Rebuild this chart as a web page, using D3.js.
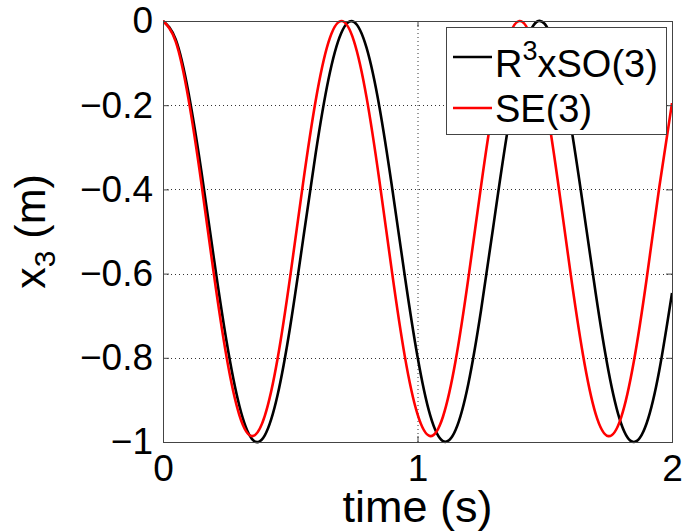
<!DOCTYPE html>
<html><head><meta charset="utf-8">
<script src="https://cdn.jsdelivr.net/npm/d3@7"></script>
<style>
html,body{margin:0;padding:0;background:#fff;}
text{font-family:"Liberation Sans",Arial,sans-serif;fill:#000;}
</style></head>
<body><svg id="c" width="684" height="532"></svg>
<script>
// ---- data ----
const time = [0,0.05,0.1,0.15,0.2,0.25,0.3,0.35,0.4,0.45,0.5,0.55,0.6,0.65,0.7,0.75,0.8,0.85,0.9,0.95,1.0,
  1.05,1.1,1.15,1.2,1.25,1.3,1.35,1.4,1.45,1.5,1.55,1.6,1.65,1.7,1.75,1.8,1.85,1.9,1.95,2.0];
const r3so3 = [0,-0.044,-0.170,-0.354,-0.564,-0.762,-0.914,-0.993,-0.984,-0.889,-0.725,-0.521,-0.314,-0.139,-0.029,-0.002,
  -0.064,-0.203,-0.395,-0.605,-0.797,-0.937,-0.998,-0.971,-0.861,-0.686,-0.479,-0.275,-0.111,-0.016,-0.007,
  -0.086,-0.238,-0.437,-0.646,-0.830,-0.956,-1.000,-0.956,-0.830,-0.646];
const se3 = [0,-0.049,-0.185,-0.382,-0.602,-0.799,-0.936,-0.986,-0.938,-0.803,-0.606,-0.387,-0.189,-0.051,0.000,-0.047,
  -0.182,-0.378,-0.597,-0.796,-0.934,-0.986,-0.940,-0.806,-0.610,-0.391,-0.192,-0.053,0.000,-0.045,-0.178,
  -0.374,-0.593,-0.792,-0.933,-0.986,-0.942,-0.809,-0.614,-0.395,-0.195];
const xTicks = [0,1,2];
const xTickLabels = ["0","1","2"];
const yTicks = [0,-0.2,-0.4,-0.6,-0.8,-1];
const yTickLabels = ["0","\u22120.2","\u22120.4","\u22120.6","\u22120.8","\u22121"];
const seriesNames = ["R3xSO(3)","SE(3)"];
const seriesColors = ["#000000","#ff0000"];

// ---- layout ----
const L=163, R=672, T=21, B=442;
const svg=d3.select("#c");
const x=d3.scaleLinear().domain([0,2]).range([L,R]);
const y=d3.scaleLinear().domain([-1,0]).range([B,T]);

// grid (dotted)
const grid=svg.append("g").attr("stroke","#333").attr("stroke-width",1).attr("stroke-dasharray","1,3");
grid.selectAll("line.gx").data(xTicks.filter(d=>d>0&&d<2)).join("line")
  .attr("x1",d=>x(d)+0.5).attr("x2",d=>x(d)+0.5).attr("y1",T).attr("y2",B);
grid.selectAll("line.gy").data(yTicks.filter(d=>d<0&&d>-1)).join("line")
  .attr("y1",d=>Math.round(y(d))+0.5).attr("y2",d=>Math.round(y(d))+0.5).attr("x1",L).attr("x2",R);

// curves
svg.append("clipPath").attr("id","pc").append("rect").attr("x",L).attr("y",T-3).attr("width",R-L).attr("height",B-T+6);
const line=d3.line().x((d,i)=>x(time[i])).y(d=>y(d)).curve(d3.curveNatural);
const series=[r3so3,se3];
svg.append("g").attr("clip-path","url(#pc)").selectAll("path").data(series).join("path")
  .attr("d",d=>line(d)).attr("fill","none").attr("stroke",(d,i)=>seriesColors[i]).attr("stroke-width",2.6);

// axes with inward ticks
const ax=svg.append("g");
const xb=d3.axisBottom(x).tickValues(xTicks).tickSizeInner(-6).tickSizeOuter(0).tickPadding(13).tickFormat((d,i)=>xTickLabels[i]);
const gx=ax.append("g").attr("transform",`translate(0,${B})`).call(xb);
const yl=d3.axisLeft(y).tickValues(yTicks).tickSizeInner(-6).tickSizeOuter(0).tickPadding(10).tickFormat((d,i)=>yTickLabels[i]);
const gy=ax.append("g").attr("transform",`translate(${L},0)`).call(yl);
ax.append("g").attr("transform",`translate(0,${T})`).call(d3.axisTop(x).tickValues(xTicks).tickSizeInner(-6).tickSizeOuter(0).tickFormat(""));
ax.append("g").attr("transform",`translate(${R},0)`).call(d3.axisRight(y).tickValues(yTicks).tickSizeInner(-6).tickSizeOuter(0).tickFormat(""));
ax.selectAll(".domain").attr("stroke","#444");
ax.selectAll(".tick line").attr("stroke","#444");
ax.selectAll("text").attr("fill","#000").attr("font-size",37).style("font-family","Liberation Sans, Arial, sans-serif");
// box
svg.append("rect").attr("x",L+0.5).attr("y",T+0.5).attr("width",R-L).attr("height",B-T).attr("fill","none").attr("stroke","#444");

// axis labels
svg.append("text").attr("x",(L+R)/2).attr("y",522).attr("text-anchor","middle").attr("font-size",45).text("time (s)");
const ylab=svg.append("text").attr("transform",`translate(45,${(T+B)/2}) rotate(-90)`).attr("text-anchor","middle").attr("font-size",43);
ylab.append("tspan").text("x");
ylab.append("tspan").attr("font-size",30).attr("dy",10).text("3");
ylab.append("tspan").attr("dy",-10).text(" (m)");

// legend
const lg=svg.append("g");
lg.append("rect").attr("x",446.5).attr("y",27.5).attr("width",220).attr("height",107).attr("fill","#fff").attr("stroke","#444");
const rows=[{y:57,base:77},{y:108,base:122}];
rows.forEach((r,i)=>{
  lg.append("line").attr("x1",453).attr("x2",492).attr("y1",r.y).attr("y2",r.y).attr("stroke",seriesColors[i]).attr("stroke-width",2.6);
});
const t1=lg.append("text").attr("x",495).attr("y",rows[0].base).attr("font-size",38);
t1.append("tspan").text("R");
t1.append("tspan").attr("font-size",27).attr("dy",-17).text("3");
t1.append("tspan").attr("dy",17).text("xSO(3)");
lg.append("text").attr("x",495).attr("y",rows[1].base).attr("font-size",38).text(seriesNames[1]);
</script></body></html>
